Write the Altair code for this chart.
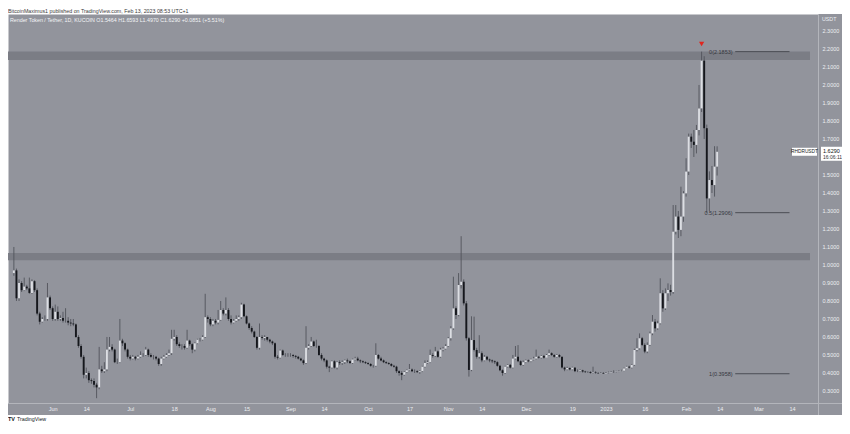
import altair as alt
import pandas as pd

FONT = "Liberation Sans"
BG = "#92949c"
BAND = "#7b7d85"
UP = "#dcdee3"
DOWN = "#15171c"
WICK = "#51545b"
AXIS_TXT = "#eceef1"
SEP = "#b3b5bb"

# ---- daily candles, 17 May 2022 .. 13 Feb 2023 ----
first_open = 0.955
may_c = [0.970, 0.815, 0.900, 0.860, 0.880, 0.870, 0.845, 0.910, 0.860, 0.730, 0.685, 0.700, 0.700, 0.820, 0.760]
may_h = [1.100, 0.980, 0.920, 0.910, 0.930, 0.890, 0.930, 0.920, 0.915, 0.870, 0.740, 0.710, 0.720, 0.900, 0.830]
may_l = [0.940, 0.800, 0.800, 0.850, 0.855, 0.860, 0.840, 0.840, 0.850, 0.720, 0.670, 0.680, 0.690, 0.690, 0.750]

jun_c = [0.700, 0.740, 0.700, 0.705, 0.690, 0.690, 0.680, 0.675, 0.670, 0.600, 0.550, 0.490, 0.390, 0.400, 0.360,
         0.355, 0.335, 0.320, 0.420, 0.410, 0.420, 0.530, 0.545, 0.530, 0.460, 0.460, 0.580, 0.565, 0.530, 0.490]
jun_h = [0.770, 0.780, 0.770, 0.720, 0.740, 0.760, 0.710, 0.700, 0.700, 0.675, 0.610, 0.560, 0.500, 0.430, 0.410,
         0.370, 0.370, 0.345, 0.545, 0.440, 0.460, 0.600, 0.600, 0.560, 0.535, 0.480, 0.700, 0.590, 0.570, 0.535]
jun_l = [0.690, 0.690, 0.690, 0.690, 0.680, 0.680, 0.665, 0.660, 0.660, 0.595, 0.540, 0.480, 0.370, 0.370, 0.345,
         0.340, 0.320, 0.260, 0.310, 0.400, 0.400, 0.410, 0.520, 0.520, 0.455, 0.450, 0.455, 0.550, 0.520, 0.480]

jul_c = [0.480, 0.490, 0.480, 0.490, 0.500, 0.500, 0.530, 0.500, 0.490, 0.490, 0.480, 0.450, 0.480, 0.490, 0.500,
         0.510, 0.590, 0.600, 0.560, 0.550, 0.550, 0.540, 0.580, 0.560, 0.530, 0.565, 0.585, 0.585, 0.600, 0.710, 0.700]
jul_h = [0.500, 0.500, 0.495, 0.500, 0.520, 0.510, 0.545, 0.535, 0.510, 0.500, 0.495, 0.485, 0.490, 0.500, 0.510,
         0.530, 0.640, 0.640, 0.610, 0.570, 0.560, 0.560, 0.640, 0.585, 0.565, 0.570, 0.590, 0.595, 0.610, 0.840, 0.720]
jul_l = [0.470, 0.475, 0.470, 0.475, 0.485, 0.490, 0.495, 0.490, 0.485, 0.475, 0.470, 0.440, 0.440, 0.475, 0.485,
         0.495, 0.500, 0.580, 0.550, 0.540, 0.530, 0.530, 0.535, 0.550, 0.510, 0.520, 0.560, 0.575, 0.580, 0.595, 0.680]

aug_c = [0.670, 0.690, 0.680, 0.695, 0.750, 0.730, 0.750, 0.700, 0.680, 0.690, 0.700, 0.710, 0.780, 0.715, 0.675,
         0.650, 0.630, 0.600, 0.540, 0.600, 0.595, 0.600, 0.585, 0.575, 0.565, 0.490, 0.485, 0.525, 0.500, 0.500, 0.500]
aug_h = [0.710, 0.700, 0.700, 0.750, 0.800, 0.760, 0.820, 0.760, 0.720, 0.700, 0.720, 0.720, 0.790, 0.785, 0.720,
         0.680, 0.660, 0.635, 0.605, 0.675, 0.610, 0.610, 0.600, 0.590, 0.580, 0.570, 0.500, 0.530, 0.530, 0.510, 0.510]
aug_l = [0.660, 0.660, 0.670, 0.670, 0.690, 0.720, 0.720, 0.690, 0.670, 0.675, 0.685, 0.690, 0.700, 0.710, 0.670,
         0.640, 0.620, 0.595, 0.530, 0.530, 0.585, 0.580, 0.575, 0.565, 0.555, 0.480, 0.475, 0.480, 0.495, 0.490, 0.490]

sep_c = [0.500, 0.495, 0.490, 0.480, 0.470, 0.455, 0.540, 0.550, 0.575, 0.550, 0.550, 0.500, 0.480, 0.470, 0.435,
         0.430, 0.465, 0.430, 0.460, 0.455, 0.460, 0.470, 0.465, 0.455, 0.475, 0.480, 0.470, 0.465, 0.460, 0.455]
sep_h = [0.510, 0.505, 0.500, 0.495, 0.485, 0.475, 0.660, 0.560, 0.600, 0.580, 0.585, 0.555, 0.510, 0.485, 0.475,
         0.440, 0.470, 0.470, 0.465, 0.470, 0.470, 0.475, 0.480, 0.470, 0.480, 0.490, 0.490, 0.475, 0.470, 0.465]
sep_l = [0.490, 0.485, 0.480, 0.475, 0.465, 0.445, 0.450, 0.530, 0.545, 0.545, 0.540, 0.495, 0.470, 0.460, 0.425,
         0.405, 0.425, 0.425, 0.420, 0.445, 0.445, 0.450, 0.455, 0.450, 0.450, 0.470, 0.465, 0.455, 0.455, 0.450]

oct_c = [0.450, 0.440, 0.440, 0.500, 0.480, 0.470, 0.460, 0.455, 0.450, 0.440, 0.435, 0.410, 0.400, 0.390, 0.405,
         0.415, 0.420, 0.410, 0.410, 0.405, 0.410, 0.435, 0.455, 0.460, 0.500, 0.495, 0.520, 0.490, 0.530, 0.535, 0.550]
oct_h = [0.460, 0.455, 0.445, 0.565, 0.505, 0.490, 0.475, 0.465, 0.460, 0.455, 0.445, 0.440, 0.415, 0.410, 0.410,
         0.420, 0.450, 0.425, 0.420, 0.415, 0.415, 0.440, 0.470, 0.470, 0.530, 0.510, 0.545, 0.525, 0.540, 0.545, 0.560]
oct_l = [0.445, 0.435, 0.430, 0.435, 0.475, 0.465, 0.455, 0.450, 0.445, 0.435, 0.430, 0.400, 0.385, 0.360, 0.385,
         0.400, 0.410, 0.405, 0.400, 0.400, 0.395, 0.405, 0.430, 0.450, 0.455, 0.485, 0.490, 0.485, 0.485, 0.520, 0.530]

nov_c = [0.593, 0.648, 0.759, 0.722, 0.889, 0.907, 0.787, 0.593, 0.417, 0.583, 0.528, 0.490, 0.510, 0.470, 0.490,
         0.475, 0.470, 0.465, 0.460, 0.440, 0.415, 0.400, 0.435, 0.445, 0.430, 0.480, 0.490, 0.465, 0.445, 0.460]
nov_h = [0.600, 0.660, 0.935, 0.770, 0.955, 1.160, 0.920, 0.800, 0.600, 0.715, 0.713, 0.540, 0.610, 0.520, 0.500,
         0.495, 0.480, 0.475, 0.470, 0.465, 0.445, 0.420, 0.440, 0.450, 0.450, 0.500, 0.550, 0.555, 0.470, 0.470]
nov_l = [0.545, 0.580, 0.640, 0.700, 0.715, 0.870, 0.775, 0.580, 0.380, 0.410, 0.520, 0.480, 0.480, 0.460, 0.465,
         0.470, 0.460, 0.455, 0.450, 0.435, 0.410, 0.385, 0.395, 0.430, 0.425, 0.425, 0.475, 0.460, 0.440, 0.440]

dec_c = [0.470, 0.465, 0.475, 0.480, 0.490, 0.485, 0.495, 0.485, 0.500, 0.510, 0.500, 0.490, 0.500, 0.490, 0.430,
         0.420, 0.428, 0.420, 0.430, 0.410, 0.410, 0.415, 0.408, 0.405, 0.405, 0.400, 0.403, 0.400, 0.398, 0.400, 0.397]
dec_h = [0.475, 0.475, 0.480, 0.490, 0.530, 0.495, 0.500, 0.500, 0.505, 0.530, 0.515, 0.505, 0.505, 0.505, 0.490,
         0.435, 0.435, 0.430, 0.435, 0.430, 0.420, 0.420, 0.418, 0.412, 0.410, 0.410, 0.435, 0.410, 0.405, 0.405, 0.405]
dec_l = [0.455, 0.460, 0.460, 0.470, 0.475, 0.480, 0.480, 0.480, 0.485, 0.495, 0.495, 0.485, 0.485, 0.485, 0.425,
         0.410, 0.415, 0.415, 0.415, 0.405, 0.405, 0.405, 0.402, 0.400, 0.400, 0.396, 0.398, 0.3958, 0.396, 0.396, 0.3958]

jan_c = [0.400, 0.402, 0.405, 0.405, 0.408, 0.410, 0.412, 0.425, 0.435, 0.430, 0.445, 0.528, 0.537, 0.593, 0.556,
         0.519, 0.556, 0.620, 0.685, 0.648, 0.676, 0.843, 0.759, 0.843, 0.861, 0.850, 1.185, 1.269, 1.195, 1.269, 1.398]
jan_h = [0.405, 0.408, 0.410, 0.415, 0.412, 0.415, 0.418, 0.430, 0.440, 0.440, 0.450, 0.535, 0.593, 0.620, 0.600,
         0.565, 0.570, 0.630, 0.722, 0.700, 0.690, 0.926, 0.860, 0.870, 0.898, 0.890, 1.333, 1.333, 1.300, 1.435, 1.410]
jan_l = [0.396, 0.398, 0.400, 0.400, 0.402, 0.405, 0.408, 0.410, 0.422, 0.425, 0.425, 0.440, 0.520, 0.530, 0.550,
         0.510, 0.510, 0.550, 0.610, 0.630, 0.640, 0.670, 0.740, 0.750, 0.800, 0.830, 0.840, 1.170, 1.150, 1.160, 1.240]

feb_c = [1.519, 1.713, 1.685, 1.667, 1.750, 1.870, 2.135, 1.760, 1.370, 1.472, 1.444, 1.5464, 1.629]
feb_h = [1.593, 1.730, 1.730, 1.750, 1.778, 2.000, 2.1853, 2.160, 1.780, 1.520, 1.550, 1.660, 1.6593]
feb_l = [1.380, 1.500, 1.650, 1.600, 1.620, 1.720, 1.850, 1.700, 1.290, 1.300, 1.400, 1.380, 1.497]

# ---- annotations ----
band_lo = [2.139, 1.027]
band_hi = [2.186, 1.067]
fib_levels = [2.1853, 1.2906, 0.3958]
fib_labels = ["0(2.1853)", "0.5(1.2906)", "1(0.3958)"]
peak_marker_date = ["2023-02-07T00:00:00"]
peak_marker_y = [2.228]
countdown = "16:06:11"

x_tick_dates = [(2022, 6, 1), (2022, 6, 14), (2022, 7, 1), (2022, 7, 18), (2022, 8, 1), (2022, 8, 15),
                (2022, 9, 1), (2022, 9, 14), (2022, 10, 1), (2022, 10, 17), (2022, 11, 1), (2022, 11, 14),
                (2022, 12, 1), (2022, 12, 19), (2023, 1, 1), (2023, 1, 16), (2023, 2, 1), (2023, 2, 14),
                (2023, 3, 1), (2023, 3, 14)]
y_ticks = [0.3, 0.4, 0.5, 0.6, 0.7, 0.8, 0.9, 1.0, 1.1, 1.2, 1.3, 1.4, 1.5, 1.7, 1.8, 1.9, 2.0, 2.1, 2.2, 2.3]

closes = may_c + jun_c + jul_c + aug_c + sep_c + oct_c + nov_c + dec_c + jan_c + feb_c
highs = may_h + jun_h + jul_h + aug_h + sep_h + oct_h + nov_h + dec_h + jan_h + feb_h
lows = may_l + jun_l + jul_l + aug_l + sep_l + oct_l + nov_l + dec_l + jan_l + feb_l
assert len(closes) == len(highs) == len(lows) == 273, (len(closes), len(highs), len(lows))
opens = [first_open] + closes[:-1]
dates = pd.date_range("2022-05-17", periods=len(closes), freq="D")

df = pd.DataFrame({"date": dates.strftime("%Y-%m-%dT00:00:00"), "open": opens,
                   "high": highs, "low": lows, "close": closes})
df["high"] = df[["high", "open", "close"]].max(axis=1)
df["low"] = df[["low", "open", "close"]].min(axis=1)
df["dir"] = ["up" if c >= o else "down" for o, c in zip(df["open"], df["close"])]

W, H = 810, 389

x_scale = alt.Scale(domain=[alt.DateTime(year=2022, month=5, date=16, hours=16),
                            alt.DateTime(year=2023, month=3, date=22, hours=2)])
x_axis = alt.Axis(values=[alt.DateTime(year=y, month=m, date=d) for (y, m, d) in x_tick_dates],
                  labelExpr="date(datum.value) == 1 ? (month(datum.value) == 0 ? timeFormat(datum.value, '%Y') : timeFormat(datum.value, '%b')) : timeFormat(datum.value, '%d')",
                  title=None, ticks=False, domain=False, grid=False, labelColor=AXIS_TXT,
                  labelFontSize=5.5, labelPadding=3, labelOverlap=False, labelFlush=False,
                  labelFont=FONT, zindex=2)
y_scale = alt.Scale(domain=[0.2333, 2.3944], nice=False, zero=False)
y_axis = alt.Axis(orient="right", values=y_ticks, format=".4f", title=None, ticks=False,
                  domain=False, grid=False, labelColor=AXIS_TXT, labelFontSize=5.5,
                  labelPadding=4, labelAlign="left", labelBaseline="middle", labelFont=FONT,
                  zindex=2)


def X(field="date"):
    return alt.X(f"{field}:T", scale=x_scale, axis=x_axis)


def Y(field):
    return alt.Y(f"{field}:Q", scale=y_scale, axis=y_axis)


one = pd.DataFrame({"k": [0]})


def prect(x, x2, y, y2, color):
    return alt.Chart(one).mark_rect(color=color).encode(
        x=alt.value(x), x2=alt.value(x2), y=alt.value(y), y2=alt.value(y2))


def ptext(x, y, txt, size=5.5, color="#333333", align="left", weight="normal"):
    return alt.Chart(one).mark_text(align=align, baseline="middle", fontSize=size, color=color,
                                    font=FONT, fontWeight=weight).encode(
        x=alt.value(x), y=alt.value(y), text=alt.value(txt))


bands = alt.Chart(pd.DataFrame({"lo": band_lo, "hi": band_hi})).mark_rect(color=BAND).encode(
    x=alt.value(0), x2=alt.value(802), y=Y("lo"), y2="hi")

price_strip = prect(W, 834, 0, 401, BG)
time_strip = prect(0, 834, H, 401, BG)
sep_v = alt.Chart(one).mark_rule(color=SEP, strokeWidth=1).encode(
    x=alt.value(W + 0.5), y=alt.value(0), y2=alt.value(401))
sep_h = alt.Chart(one).mark_rule(color=SEP, strokeWidth=1).encode(
    x=alt.value(0), x2=alt.value(834), y=alt.value(H + 0.5))

base = alt.Chart(df)
wicks = base.mark_rule(color=WICK, strokeWidth=0.9).encode(x=X(), y=Y("low"), y2="high")
bodies = base.mark_bar(size=1.9).encode(
    x=X(), y=Y("open"), y2="close",
    color=alt.Color("dir:N", scale=alt.Scale(domain=["up", "down"], range=[UP, DOWN]), legend=None))

fib_df = pd.DataFrame({"level": fib_levels, "label": fib_labels,
                       "start": "2023-02-20T00:00:00", "end": "2023-03-13T00:00:00",
                       "tx": "2023-02-19T00:00:00"})
fib_lines = alt.Chart(fib_df).mark_rule(color="#4b4d54", strokeWidth=1).encode(
    x=X("start"), x2="end", y=Y("level"))
fib_text = alt.Chart(fib_df).mark_text(align="right", baseline="middle", fontSize=5.5,
                                       color="#34363c", font=FONT).encode(
    x=X("tx"), y=Y("level"), text="label")

marker = alt.Chart(pd.DataFrame({"date": peak_marker_date, "y": peak_marker_y})).mark_point(
    shape="triangle-down", filled=True, color="#e0261f", size=28, opacity=1).encode(x=X(), y=Y("y"))

last = pd.DataFrame({"price": [closes[-1]], "cd": [countdown], "sym": ["RHDRUSDT"]})
sym_box = alt.Chart(last).mark_rect(color="white", yOffset=-4, y2Offset=4).encode(
    x=alt.value(784), x2=alt.value(809), y=Y("price"), y2="price")
sym_text = alt.Chart(last).mark_text(fontSize=4.8, color="#222", font=FONT, align="center",
                                     baseline="middle").encode(
    x=alt.value(796.5), y=Y("price"), text="sym:N")
px_box = alt.Chart(last).mark_rect(color="white", yOffset=-5, y2Offset=9).encode(
    x=alt.value(813), x2=alt.value(834), y=Y("price"), y2="price")
px_text = alt.Chart(last).mark_text(fontSize=5.5, color="#111", font=FONT, align="left",
                                    baseline="middle", dy=-1).encode(
    x=alt.value(815), y=Y("price"), text=alt.Text("price:Q", format=".4f"))
cd_text = alt.Chart(last).mark_text(fontSize=5, color="#333", font=FONT, align="left",
                                    baseline="middle", dy=5.5).encode(
    x=alt.value(815), y=Y("price"), text="cd:N")

header = ptext(0, -3.2, "BitcoinMaximus1 published on TradingView.com, Feb 13, 2023 08:53 UTC+1",
               size=5.3, color="#3a3a3a")
legend_row = ptext(2, 6, "Render Token / Tether, 1D, KUCOIN  O1.5464  H1.6593  L1.4970  C1.6290  +0.0851 (+5.51%)",
                   size=5.3, color="#f4f5f7")
usdt = ptext(814, 5, "USDT", size=5.3, color=AXIS_TXT)
logo_tv = ptext(0, 404.5, "TV", size=5.5, color="#131722", weight="bold")
logo_txt = ptext(9, 404.5, "TradingView", size=5.3, color="#131722")

chart = alt.layer(
    bands, price_strip, time_strip, sep_v, sep_h, wicks, bodies, fib_lines, fib_text, marker,
    sym_box, sym_text, px_box, px_text, cd_text, header, legend_row, usdt, logo_tv, logo_txt
).properties(
    width=W, height=H,
    padding={"left": 0, "top": 6, "right": 24, "bottom": 19},
    autosize=alt.AutoSizeParams(type="none"),
    background="white",
).configure_view(fill=BG, stroke="transparent")

chart.save("out.html", embed_options={"renderer": "svg", "actions": False})
